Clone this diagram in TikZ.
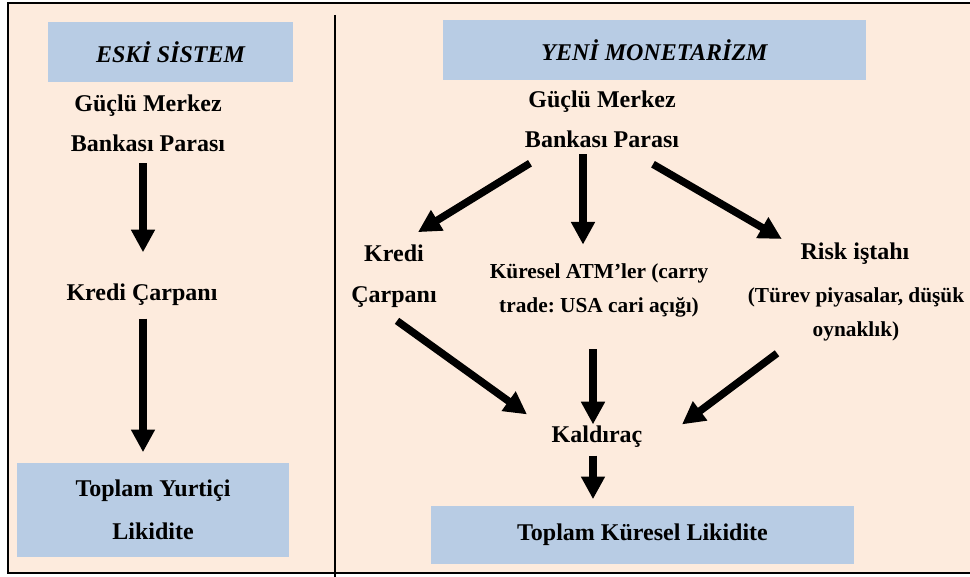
\documentclass[tikz,border=0pt]{standalone}
\usepackage{fontspec}
\setmainfont{Liberation Serif}
\usepackage{tikz}
\usetikzlibrary{positioning,calc,arrows.meta}
\definecolor{panelpeach}{RGB}{253,235,221}
\definecolor{titleblue}{RGB}{184,204,228}
\frenchspacing

\begin{document}
\begin{tikzpicture}[x=0.75pt, y=-0.75pt, line width=1.2pt]

% text and box styles
\tikzset{
  lbl/.style={font=\fontsize{18}{30}\selectfont\bfseries, align=center, inner sep=0pt},
  lblsmall/.style={font=\fontsize{16}{26}\selectfont\bfseries, align=center, inner sep=0pt},
  titlebox/.style={fill=titleblue, inner sep=0pt, font=\fontsize{18}{30}\selectfont\bfseries\itshape},
  sumbox/.style={fill=titleblue, inner sep=0pt, align=center, font=\fontsize{18}{32}\selectfont\bfseries},
  fat/.style={line width=5.6pt, -{Triangle[length=17pt,width=17pt]}}
}

\useasboundingbox (0,0) rectangle (970,577);

% frame and divider
\draw[fill=panelpeach] (8,3) rectangle (985,573);
\draw (335,15) -- (335,577);

% -----------------------------------------
% left panel
% -----------------------------------------
\node[titlebox, minimum width=245*0.75pt, minimum height=60*0.75pt] (eski) at (170.5,52) {ESKİ SİSTEM};

\node[lbl] (guc1) at (148,123) {Güçlü Merkez\\Bankası Parası};
\node[lbl] (kredi1) at (142,295) {Kredi Çarpanı};
\node[sumbox, minimum width=272*0.75pt, minimum height=94*0.75pt] (toplam1) at (153,510) {Toplam Yurtiçi\\Likidite};

\draw[fat] ($(guc1.south)+(-5,11)$) -- ($(kredi1.north)+(1,-31)$);
\draw[fat] ($(kredi1.south)+(1,12)$) -- ($(toplam1.north)+(-10,-10)$);

% -----------------------------------------
% right panel
% -----------------------------------------
\node[titlebox, minimum width=423*0.75pt, minimum height=60*0.75pt] (yeni) at (654.5,50) {YENİ MONETARİZM};

\node[lbl] (guc2) at (602,119) {Güçlü Merkez\\Bankası Parası};

\node[lbl, font=\fontsize{18}{31}\selectfont\bfseries] (kredi2) at (394,276.5) {Kredi\\Çarpanı};
\node[lblsmall] (atm) at (599,290.5) {Küresel ATM’ler (carry\\trade: USA cari açığı)};
\node[lbl] (risk) at (855,254) {Risk iştahı};
\node[lblsmall] (riskd) at (856,314.5) {(Türev piyasalar, düşük\\oynaklık)};

\node[lbl] (kald) at (597,437) {Kaldıraç};
\node[sumbox, minimum width=423*0.75pt, minimum height=58*0.75pt] (toplam2) at (642.5,535) {Toplam Küresel Likidite};

% fan out
\draw[fat] ($(guc2.south)+(-72,15)$) -- ($(kredi2.north)+(24,-12)$);
\draw[fat] ($(guc2.south)+(-19,6)$) -- ($(atm.north)+(-16,-18)$);
\draw[fat] ($(guc2.south)+(51,16)$) -- ($(risk.west)+(-18,-15)$);

% fan in
\draw[fat] ($(kredi2.south)+(3,12)$) -- ($(kald.north)+(-70,-11)$);
\draw[fat] ($(atm.south)+(-6,31)$) -- ($(kald.north)+(-4,-1)$);
\draw[fat] ($(riskd.south)+(-79,11)$) -- ($(kald.north)+(85,-1)$);

\draw[fat] ($(kald.south)+(-4,7)$) -- ($(toplam2.north)+(-49.5,-6)$);

\end{tikzpicture}
\end{document}
